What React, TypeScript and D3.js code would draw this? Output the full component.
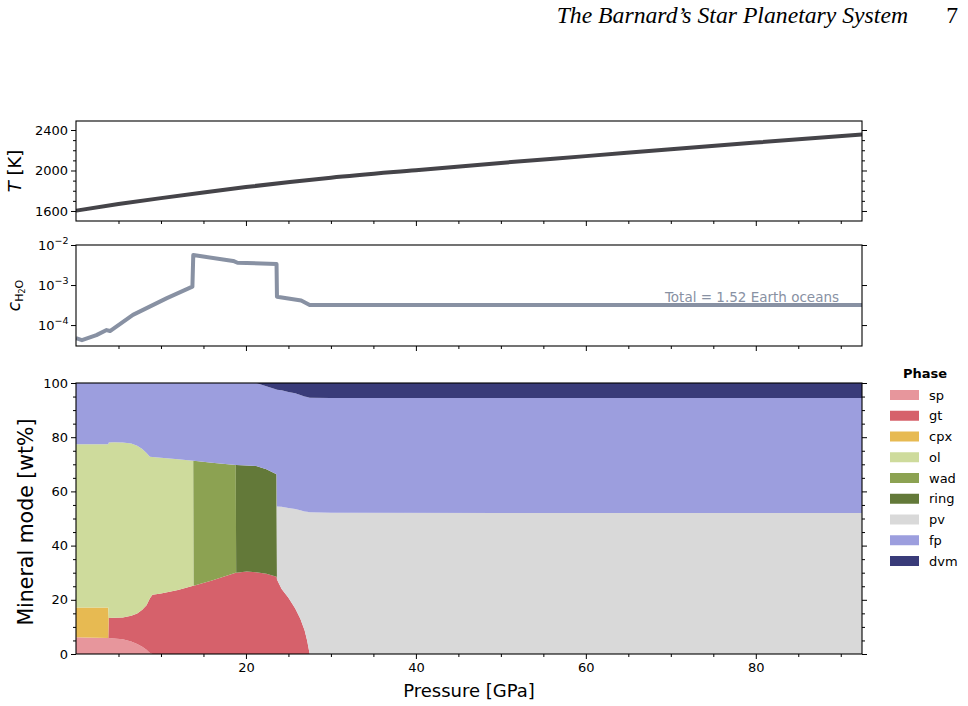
import React, { useEffect, useRef } from 'react';
import * as d3 from 'd3';

// temperature profile
const pressureT = [0, 5, 10, 15, 20, 30, 40, 50, 60, 70, 80, 92.5];
const temperature = [1603, 1668, 1727, 1783, 1836, 1928, 2003, 2075, 2142, 2210, 2276, 2356];

// water content profile
const pressureW = [0, 0.7, 2.4, 3.6, 4.0, 6.7, 10.7, 13.7, 13.8, 18.5, 19, 23.6, 23.65, 26.5, 27.5, 92.5];
const waterFrac = [4.7e-5, 4.2e-5, 5.6e-5, 7.5e-5, 7.1e-5, 1.8e-4, 4.7e-4, 9.1e-4, 5.6e-3, 4.0e-3, 3.6e-3, 3.35e-3, 5.1e-4, 4.1e-4, 3.16e-4, 3.16e-4];

// mineral modes (wt%)
const pressureM = [0, 1, 2.5, 3.8, 3.85, 4.5, 5.5, 6.5, 7.2, 7.8, 8.3, 8.7, 9.0, 10, 12, 13.8, 13.85, 16, 18.8, 18.85, 20.1, 21.2, 22.4, 23.6, 23.65, 24.2, 25, 25.8, 26.4, 26.9, 27.2, 27.5, 30, 60, 92.5];
const sp = [6.2, 6.1, 6.0, 5.9, 5.9, 5.7, 5.4, 4.6, 3.7, 2.7, 1.6, 0.4, 0, 0, 0, 0, 0, 0, 0, 0, 0, 0, 0, 0, 0, 0, 0, 0, 0, 0, 0, 0, 0, 0, 0];
const gt = [0, 0, 0, 0, 7.4, 7.7, 8.1, 9.5, 11.2, 13.6, 16.4, 20.2, 21.9, 22.3, 23.6, 25.2, 25.2, 27.1, 30.0, 30.0, 30.4, 30.2, 29.6, 28.5, 27.5, 24.0, 20.8, 16.8, 13.0, 8.8, 5.0, 0, 0, 0, 0];
const cpx = [11.0, 11.1, 11.2, 11.3, 0, 0, 0, 0, 0, 0, 0, 0, 0, 0, 0, 0, 0, 0, 0, 0, 0, 0, 0, 0, 0, 0, 0, 0, 0, 0, 0, 0, 0, 0, 0];
const ol = [60.2, 60.2, 60.2, 60.2, 64.7, 64.7, 64.5, 63.6, 61.9, 59.3, 56.2, 52.2, 50.8, 50.1, 48.3, 46.1, 0, 0, 0, 0, 0, 0, 0, 0, 0, 0, 0, 0, 0, 0, 0, 0, 0, 0, 0];
const wad = [0, 0, 0, 0, 0, 0, 0, 0, 0, 0, 0, 0, 0, 0, 0, 0, 46.1, 43.5, 39.7, 0, 0, 0, 0, 0, 0, 0, 0, 0, 0, 0, 0, 0, 0, 0, 0];
const ring = [0, 0, 0, 0, 0, 0, 0, 0, 0, 0, 0, 0, 0, 0, 0, 0, 0, 0, 0, 39.7, 39.2, 39.2, 38.6, 37.8, 0, 0, 0, 0, 0, 0, 0, 0, 0, 0, 0];
const pv = [0, 0, 0, 0, 0, 0, 0, 0, 0, 0, 0, 0, 0, 0, 0, 0, 0, 0, 0, 0, 0, 0, 0, 0, 26.9, 30.3, 33.1, 36.7, 40.0, 43.8, 47.5, 52.3, 52.1, 52.0, 52.0];
const fp = [22.6, 22.6, 22.6, 22.6, 22.0, 21.9, 22.0, 22.3, 23.2, 24.4, 25.8, 27.2, 27.3, 27.6, 28.1, 28.7, 28.7, 29.4, 30.3, 30.3, 30.4, 30.6, 30.6, 31.3, 43.1, 43.0, 42.8, 42.7, 42.6, 42.4, 42.3, 42.3, 42.4, 42.5, 42.5];
const dvm = [0, 0, 0, 0, 0, 0, 0, 0, 0, 0, 0, 0, 0, 0, 0, 0, 0, 0, 0, 0, 0, 0, 1.2, 2.4, 2.5, 2.7, 3.3, 3.8, 4.4, 5.0, 5.2, 5.4, 5.5, 5.5, 5.5];

const phaseNames = ['sp', 'gt', 'cpx', 'ol', 'wad', 'ring', 'pv', 'fp', 'dvm'];
const phaseValues = [sp, gt, cpx, ol, wad, ring, pv, fp, dvm];
const phaseColors = ['#e7969c', '#d6616b', '#e7ba52', '#cedb9c', '#8ca252', '#637939', '#d9d9d9', '#9c9ede', '#393b79'];

const pressureTicks = [20, 40, 60, 80];
const tempTicks = [1600, 2000, 2400];
const waterTicks = [1e-4, 1e-3, 1e-2];
const modeTicks = [0, 20, 40, 60, 80, 100];

const FONT = 'DejaVu Sans, sans-serif';

const App: React.FC = () => {
  const svgRef = useRef<SVGSVGElement>(null);

  useEffect(() => {
    if (!svgRef.current) return;
    const svg = d3.select(svgRef.current);
    svg.selectAll('*').remove();

    const L = 76, R = 862;
    const panels = {
      temp: { top: 121, bottom: 221 },
      water: { top: 245, bottom: 346 },
      mode: { top: 383, bottom: 654 },
    };

    const x = d3.scaleLinear().domain([0, 92.5]).range([L, R]);
    const yT = d3.scaleLinear().domain([1501, 2489]).range([panels.temp.bottom, panels.temp.top]);
    const yW = d3.scaleLog().domain([3e-5, 1e-2]).range([panels.water.bottom, panels.water.top]);
    const yM = d3.scaleLinear().domain([0, 100]).range([panels.mode.bottom, panels.mode.top]);

    const defs = svg.append('defs');
    Object.entries(panels).forEach(([k, p]) => {
      defs.append('clipPath').attr('id', `clip-${k}`)
        .append('rect').attr('x', L).attr('y', p.top).attr('width', R - L).attr('height', p.bottom - p.top);
    });

    // header
    svg.append('text')
      .attr('x', 908).attr('y', 23)
      .attr('text-anchor', 'end')
      .attr('font-family', 'Liberation Serif, Times New Roman, serif')
      .attr('font-style', 'italic')
      .attr('font-size', 23.7)
      .text('The Barnard\u2019s Star Planetary System');
    svg.append('text')
      .attr('x', 958).attr('y', 23)
      .attr('text-anchor', 'end')
      .attr('font-family', 'Liberation Serif, Times New Roman, serif')
      .attr('font-size', 23.7)
      .text('7');

    // stacked mineral modes
    const rows = pressureM.map((p, i) => {
      const r: Record<string, number> = { p };
      phaseNames.forEach((n, j) => { r[n] = phaseValues[j][i]; });
      return r;
    });
    const series = d3.stack<Record<string, number>>().keys(phaseNames)(rows);
    const area = d3.area<d3.SeriesPoint<Record<string, number>>>()
      .x(d => x(d.data.p))
      .y0(d => yM(d[0]))
      .y1(d => yM(d[1]));
    svg.append('g').attr('clip-path', 'url(#clip-mode)')
      .selectAll('path')
      .data(series)
      .enter()
      .append('path')
      .attr('d', d => area(d) || '')
      .attr('fill', (d, i) => phaseColors[i]);

    // temperature line
    const tLine = d3.line<number>()
      .x((d, i) => x(pressureT[i]))
      .y(d => yT(d))
      .curve(d3.curveMonotoneX);
    svg.append('path')
      .attr('clip-path', 'url(#clip-temp)')
      .attr('d', tLine(temperature) || '')
      .attr('fill', 'none')
      .attr('stroke', '#454449')
      .attr('stroke-width', 4);

    // water line
    const wLine = d3.line<number>()
      .x((d, i) => x(pressureW[i]))
      .y(d => yW(d));
    svg.append('path')
      .attr('clip-path', 'url(#clip-water)')
      .attr('d', wLine(waterFrac) || '')
      .attr('fill', 'none')
      .attr('stroke', '#8891a3')
      .attr('stroke-width', 4)
      .attr('stroke-linejoin', 'round');

    svg.append('text')
      .attr('x', 839).attr('y', 302)
      .attr('text-anchor', 'end')
      .attr('font-family', FONT)
      .attr('font-size', 13.5)
      .attr('fill', '#8891a3')
      .text('Total = 1.52 Earth oceans');

    // axes helper
    const addAxis = (gen: any, transform: string, labeled: boolean) => {
      const g = svg.append('g').attr('transform', transform).call(gen);
      g.select('.domain').remove();
      g.selectAll('line').attr('stroke', '#000').attr('stroke-width', 1);
      if (labeled) {
        g.selectAll('text').attr('font-family', FONT).attr('font-size', 13).attr('fill', '#000');
      } else {
        g.selectAll('text').remove();
      }
      return g;
    };

    const fmt = d3.format('d');
    const xMinor = d3.range(5, 92.5, 5).filter(v => v % 20 !== 0);

    Object.values(panels).forEach((p, idx) => {
      const isBottom = idx === 2;
      addAxis(d3.axisBottom(x).tickValues(pressureTicks).tickFormat(fmt).tickSize(5).tickPadding(4), `translate(0,${p.bottom})`, isBottom);
      addAxis(d3.axisBottom(x).tickValues(xMinor).tickSize(3), `translate(0,${p.bottom})`, false);
    });

    // temperature y axis
    const tMinor = d3.range(1600, 2489, 100).filter(v => v % 400 !== 0);
    addAxis(d3.axisLeft(yT).tickValues(tempTicks).tickFormat(fmt).tickSize(5).tickPadding(3), `translate(${L},0)`, true);
    addAxis(d3.axisLeft(yT).tickValues(tMinor).tickSize(3), `translate(${L},0)`, false);
    addAxis(d3.axisRight(yT).tickValues(tempTicks).tickSize(5), `translate(${R},0)`, false);
    addAxis(d3.axisRight(yT).tickValues(tMinor).tickSize(3), `translate(${R},0)`, false);

    // water y axis
    addAxis(d3.axisLeft(yW).tickValues(waterTicks).tickSize(5), `translate(${L},0)`, false);
    addAxis(d3.axisRight(yW).tickValues(waterTicks).tickSize(5), `translate(${R},0)`, false);
    waterTicks.forEach(v => {
      const t = svg.append('text')
        .attr('x', 68.5).attr('y', yW(v) + 5)
        .attr('text-anchor', 'end')
        .attr('font-family', FONT)
        .attr('fill', '#000');
      t.append('tspan').attr('font-size', 13).text('10');
      t.append('tspan').attr('font-size', 9.5).attr('dy', -6)
        .text('\u2212' + Math.abs(Math.round(Math.log10(v))));
    });

    // mode y axis
    const mMinor = d3.range(5, 100, 5).filter(v => v % 20 !== 0);
    addAxis(d3.axisLeft(yM).tickValues(modeTicks).tickFormat(fmt).tickSize(5).tickPadding(3), `translate(${L},0)`, true);
    addAxis(d3.axisLeft(yM).tickValues(mMinor).tickSize(3), `translate(${L},0)`, false);
    addAxis(d3.axisRight(yM).tickValues(modeTicks).tickSize(5), `translate(${R},0)`, false);
    addAxis(d3.axisRight(yM).tickValues(mMinor).tickSize(3), `translate(${R},0)`, false);

    // frames
    Object.values(panels).forEach(p => {
      svg.append('rect')
        .attr('x', L).attr('y', p.top)
        .attr('width', R - L).attr('height', p.bottom - p.top)
        .attr('fill', 'none')
        .attr('stroke', '#000')
        .attr('stroke-width', 1.1);
    });

    // axis labels
    const tl = svg.append('text')
      .attr('transform', `translate(21,${(panels.temp.top + panels.temp.bottom) / 2}) rotate(-90)`)
      .attr('text-anchor', 'middle')
      .attr('font-family', FONT)
      .attr('font-size', 18);
    tl.append('tspan').attr('font-style', 'italic').text('T');
    tl.append('tspan').text(' [K]');

    const wl = svg.append('text')
      .attr('transform', `translate(20,${(panels.water.top + panels.water.bottom) / 2}) rotate(-90)`)
      .attr('text-anchor', 'middle')
      .attr('font-family', FONT)
      .attr('font-size', 17);
    wl.append('tspan').attr('font-style', 'italic').text('c');
    wl.append('tspan').attr('font-size', 11).attr('dy', 2.5).text('H');
    wl.append('tspan').attr('font-size', 8).attr('dy', 2).text('2');
    wl.append('tspan').attr('font-size', 11).attr('dy', -2).text('O');

    svg.append('text')
      .attr('transform', `translate(33,522) rotate(-90)`)
      .attr('text-anchor', 'middle')
      .attr('font-family', FONT)
      .attr('font-size', 20.5)
      .text('Mineral mode [wt%]');

    svg.append('text')
      .attr('x', (L + R) / 2).attr('y', 697)
      .attr('text-anchor', 'middle')
      .attr('font-family', FONT)
      .attr('font-size', 18)
      .text('Pressure [GPa]');

    // legend
    const legend = svg.append('g');
    legend.append('text')
      .attr('x', 925).attr('y', 378)
      .attr('text-anchor', 'middle')
      .attr('font-family', FONT)
      .attr('font-weight', 'bold')
      .attr('font-size', 13)
      .text('Phase');
    phaseNames.forEach((n, i) => {
      const cy = 395 + i * 20.75;
      legend.append('rect')
        .attr('x', 890).attr('y', cy - 5)
        .attr('width', 29).attr('height', 10)
        .attr('fill', phaseColors[i]);
      legend.append('text')
        .attr('x', 929).attr('y', cy + 4.5)
        .attr('font-family', FONT)
        .attr('font-size', 13)
        .text(n);
    });
  }, []);

  return (
    <svg
      ref={svgRef}
      width={968}
      height={706}
      style={{ position: 'absolute', left: 0, top: 0, background: '#ffffff' }}
    />
  );
};

export default App;
